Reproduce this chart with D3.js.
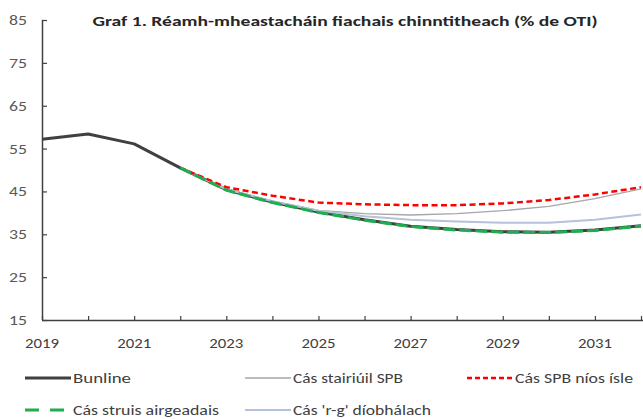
<!DOCTYPE html>
<html><head><meta charset="utf-8">
<script src="https://d3js.org/d3.v7.min.js"></script>
<style>body{margin:0;background:#fff}svg{display:block}</style>
</head><body>
<svg id="c" width="643" height="419"></svg>
<script>
const years = [2019,2020,2021,2022,2023,2024,2025,2026,2027,2028,2029,2030,2031,2032];
const bunline   = [57.2,58.4,56.1,50.5,45.4,42.5,40.2,38.4,36.9,36.1,35.6,35.5,36.0,37.0];
const stairiuil = [null,null,null,50.5,45.6,42.8,40.6,39.8,39.5,39.8,40.5,41.5,43.3,45.6];
const spbIsle   = [null,null,null,50.5,46.0,44.0,42.4,42.0,41.8,41.8,42.2,43.0,44.3,46.0];
const struis    = [null,null,null,50.5,45.3,42.4,40.1,38.3,36.8,36.0,35.5,35.4,35.9,36.9];
const rg        = [null,null,null,50.5,45.5,42.7,40.5,39.2,38.4,38.0,37.7,37.7,38.4,39.6];
const yTicks = [15,25,35,45,55,65,75,85];
const xLabels = [2019,2021,2023,2025,2027,2029,2031];
const title = "Graf 1. Réamh-mheastacháin fiachais chinntitheach (% de OTI)";

const svg = d3.select("#c");
const x = d3.scaleLinear().domain([2019,2032]).range([42,641]);
const y = d3.scaleLinear().domain([15,85]).range([320,20]);
const font = "Carlito, 'Liberation Sans Narrow', 'Open Sans', sans-serif";

// axes
const yAxis = d3.axisRight(y).tickValues(yTicks).tickSize(5).tickFormat("");
const gy = svg.append("g").attr("transform","translate(42,0)").call(yAxis);
gy.select(".domain").attr("stroke","#404040").attr("stroke-width",1.5).attr("d","M0.5,20V320");
gy.selectAll(".tick line").attr("stroke","#404040").attr("stroke-width",1.2);
svg.append("g").selectAll("text").data(yTicks).join("text")
  .attr("x",27).attr("y",d=>y(d)+5).attr("text-anchor","end")
  .attr("font-family",font).attr("font-size",14).attr("fill","#595959")
  .attr("textLength",18).attr("lengthAdjust","spacingAndGlyphs").text(d=>d);

const xAxis = d3.axisTop(x).tickValues(years).tickSize(4).tickFormat("");
const gx = svg.append("g").attr("transform","translate(0,320)").call(xAxis);
gx.select(".domain").attr("stroke","#404040").attr("stroke-width",1.5).attr("d","M42,0.5H643");
gx.selectAll(".tick line").attr("stroke","#404040").attr("stroke-width",1.2);
svg.append("g").selectAll("text").data(xLabels).join("text")
  .attr("x",d=>x(d)-17).attr("y",348)
  .attr("font-family",font).attr("font-size",14)
  .attr("textLength",34).attr("lengthAdjust","spacingAndGlyphs")
  .attr("fill","#404040").text(d=>d);

// lines
const line = d3.line().defined(d=>d[1]!=null).x(d=>x(d[0])).y(d=>y(d[1]));
const series = [
  {name:"Bunline", vals:bunline, color:"#404040", w:3, dash:null},
  {name:"Cás stairiúil SPB", vals:stairiuil, color:"#a6a6a6", w:1.3, dash:null},
  {name:"Cás 'r-g' díobhálach", vals:rg, color:"#b4c3da", w:2, dash:null},
  {name:"Cás SPB níos ísle", vals:spbIsle, color:"#ff0000", w:2.5, dash:"6,3.5"},
  {name:"Cás struis airgeadais", vals:struis, color:"#1fae4f", w:3, dash:"12,4"}
];
const plot = svg.append("g");
series.forEach(s=>{
  plot.append("path").datum(years.map((yr,i)=>[yr,s.vals[i]]))
    .attr("d",line).attr("fill","none").attr("stroke",s.color)
    .attr("stroke-width",s.w).attr("stroke-dasharray",s.dash).attr("stroke-linejoin","round");
});

// title
svg.append("text").attr("x",345).attr("y",26).attr("text-anchor","middle")
  .attr("font-family",font).attr("font-weight","600").attr("font-size",13)
  .attr("fill","#262626").attr("textLength",505).attr("lengthAdjust","spacingAndGlyphs").text(title);

// legend
const leg = [
  {s:series[0], lx:25, ly:378, dash:null, tl:58},
  {s:series[1], lx:245, ly:378, dash:null, tl:110},
  {s:series[3], lx:467, ly:378, dash:"5,3", tl:118},
  {s:series[4], lx:25, ly:410, dash:"14,11", tl:146},
  {s:series[2], lx:245, ly:410, dash:null, tl:138}
];
const lg = svg.append("g");
leg.forEach(l=>{
  lg.append("line").attr("x1",l.lx).attr("x2",l.lx+46).attr("y1",l.ly).attr("y2",l.ly)
    .attr("stroke",l.s.color).attr("stroke-width",l.s.w).attr("stroke-dasharray",l.dash);
  lg.append("text").attr("x",l.lx+48).attr("y",l.ly+5)
    .attr("font-family",font).attr("font-size",13.5).attr("fill","#404040")
    .attr("textLength",l.tl).attr("lengthAdjust","spacingAndGlyphs").text(l.s.name);
});
</script>
</body></html>
